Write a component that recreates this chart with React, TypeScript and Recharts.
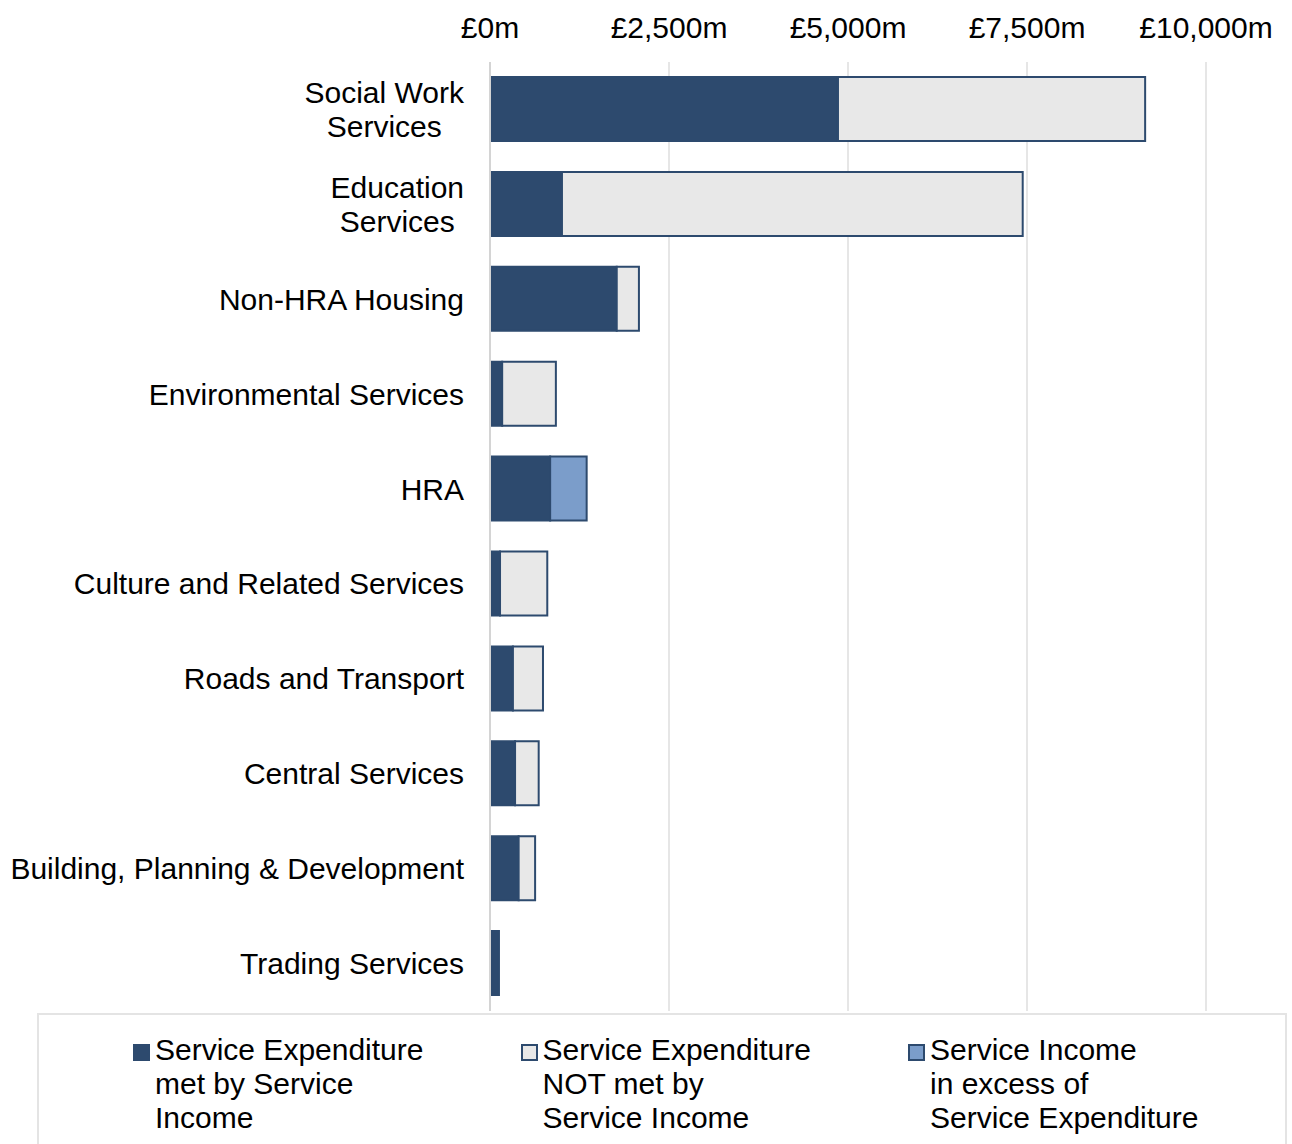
import React from 'react';
import { BarChart, Bar, XAxis, YAxis, CartesianGrid } from 'recharts';

const categories = [
  'Social Work\nServices',
  'Education\nServices',
  'Non-HRA Housing',
  'Environmental Services',
  'HRA',
  'Culture and Related Services',
  'Roads and Transport',
  'Central Services',
  'Building, Planning & Development',
  'Trading Services',
];
const metByIncome = [4860, 1005, 1770, 170, 840, 140, 320, 350, 400, 125];
const notMetByIncome = [4290, 6435, 310, 750, null, 660, 420, 330, 230, null];
const incomeInExcess = [null, null, null, null, 510, null, null, null, null, null];
const xTicks = [0, 2500, 5000, 7500, 10000];

const legendItems = [
  { key: 'met', label: ['Service Expenditure', 'met by Service', 'Income'], color: '#2D4A6E' },
  { key: 'notMet', label: ['Service Expenditure', 'NOT met by', 'Service Income'], color: '#E8E8E8' },
  { key: 'excess', label: ['Service Income', 'in excess of', 'Service Expenditure'], color: '#7B9DCA' },
];

const FONT = "'Liberation Sans', Arial, sans-serif";
const DARK = '#2D4A6E';

const data = categories.map((name, i) => ({
  name,
  met: metByIncome[i],
  notMet: notMetByIncome[i],
  excess: incomeInExcess[i],
}));

let measureCtx: CanvasRenderingContext2D | null = null;
const textWidth = (s: string) => {
  if (!measureCtx) {
    measureCtx = document.createElement('canvas').getContext('2d');
  }
  if (!measureCtx) return s.length * 15;
  measureCtx.font = `30px ${FONT}`;
  return measureCtx.measureText(s).width;
};

const CategoryTick = (props: any) => {
  const { x, y, payload } = props;
  const lines: string[] = String(payload.value).split('\n');
  if (lines.length === 1) {
    return (
      <text x={x} y={y} textAnchor="end" dominantBaseline="central" fontSize={30} fontFamily={FONT} fill="#000">
        {lines[0]}
      </text>
    );
  }
  const maxW = Math.max(...lines.map(textWidth));
  const cx = x - maxW / 2;
  return (
    <g>
      {lines.map((ln, i) => (
        <text
          key={i}
          x={cx}
          y={y + (i - (lines.length - 1) / 2) * 34}
          textAnchor="middle"
          dominantBaseline="central"
          fontSize={30}
          fontFamily={FONT}
          fill="#000"
        >
          {ln}
        </text>
      ))}
    </g>
  );
};

const fmt = (v: number) => `£${v.toLocaleString('en-GB')}m`;

export default function App() {
  return (
    <div style={{ position: 'absolute', left: 0, top: 0, width: 1292, height: 1144, background: '#fff' }}>
      <BarChart
        width={1292}
        height={1144}
        data={data}
        layout="vertical"
        margin={{ top: 1, right: 86, left: 0, bottom: 133 }}
      >
        <CartesianGrid horizontal={false} stroke="#E6E6E6" strokeWidth={2} />
        <XAxis
          type="number"
          orientation="top"
          domain={[0, 10000]}
          ticks={xTicks}
          tickFormatter={fmt}
          height={61}
          axisLine={false}
          tickLine={false}
          tickSize={0}
          tickMargin={24}
          tick={{ fontSize: 30, fontFamily: FONT, fill: '#000' }}
        />
        <YAxis
          type="category"
          dataKey="name"
          width={490}
          axisLine={{ stroke: '#D4D4D4', strokeWidth: 2 }}
          tickLine={false}
          tickSize={0}
          tickMargin={26}
          interval={0}
          tick={<CategoryTick />}
        />
        <Bar dataKey="met" stackId="a" fill={DARK} stroke={DARK} strokeWidth={2} barSize={64} isAnimationActive={false} />
        <Bar dataKey="notMet" stackId="a" fill="#E8E8E8" stroke={DARK} strokeWidth={2} barSize={64} isAnimationActive={false} />
        <Bar dataKey="excess" stackId="a" fill="#7B9DCA" stroke={DARK} strokeWidth={2} barSize={64} isAnimationActive={false} />
      </BarChart>
      <div
        style={{
          position: 'absolute',
          left: 37,
          top: 1013,
          width: 1250,
          height: 140,
          border: '2px solid #E4E4E4',
          boxSizing: 'border-box',
          fontFamily: FONT,
          fontSize: 30,
          color: '#000',
        }}
      >
        {legendItems.map((item, i) => (
          <div
            key={item.key}
            style={{ position: 'absolute', left: 94 + i * 387.5, top: 18, display: 'flex', alignItems: 'flex-start' }}
          >
            <div
              style={{
                width: 13,
                height: 13,
                marginTop: 11,
                marginRight: 5,
                background: item.color,
                border: `2px solid ${DARK}`,
              }}
            />
            <div style={{ lineHeight: '34px' }}>
              {item.label.map((l, j) => (
                <div key={j}>{l}</div>
              ))}
            </div>
          </div>
        ))}
      </div>
    </div>
  );
}
